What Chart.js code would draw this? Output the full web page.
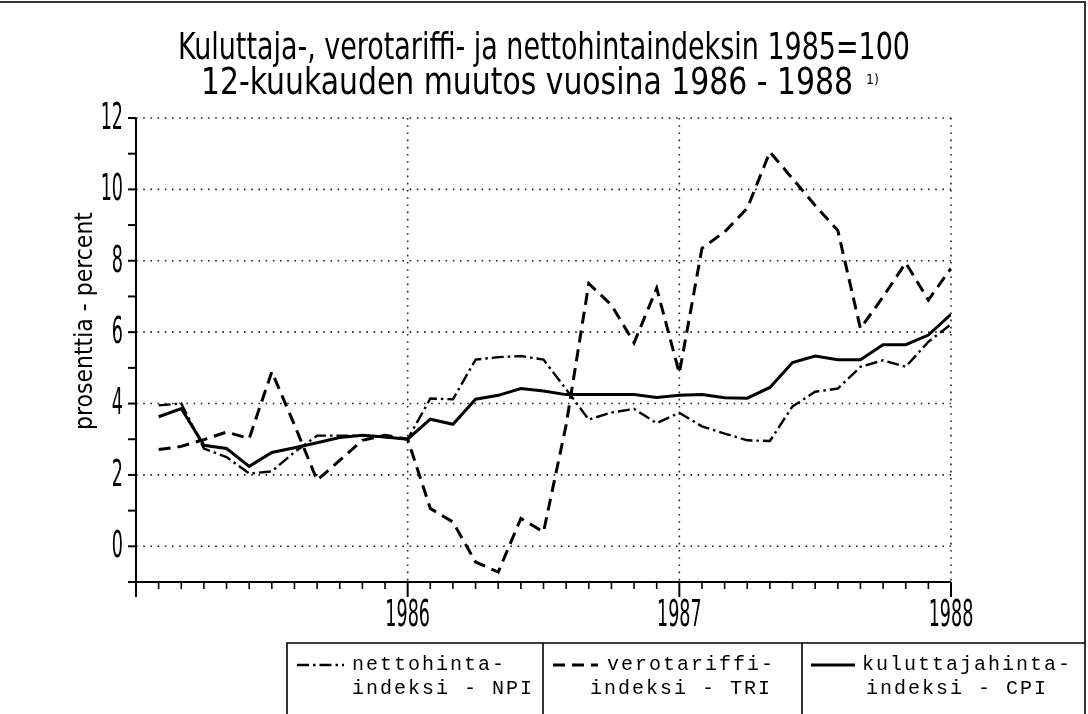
<!DOCTYPE html>
<html>
<head>
<meta charset="utf-8">
<script src="https://cdn.jsdelivr.net/npm/chart.js@4.4.1/dist/chart.umd.min.js"></script>
<style>
  html, body { margin: 0; background: #fff; }
  #wrap { width: 1088px; height: 714px; position: relative; }
</style>
</head>
<body>
<div id="wrap"><canvas id="hintaChart"></canvas></div>
<script>
// kuukaudet 1..36 (1985/2 ... 1988), vuosimerkit kohdissa 12, 24, 36
const kuukaudet = [1,2,3,4,5,6,7,8,9,10,11,12,13,14,15,16,17,18,19,20,21,22,23,24,25,26,27,28,29,30,31,32,33,34,35,36];
const vuosiKohdat = [12, 24, 36];
const vuodet = ['1986', '1987', '1988'];

// nettohintaindeksi - NPI
const npi = [3.95, 4.0, 2.74, 2.5, 2.04, 2.1, 2.64, 3.1, 3.1, 3.1, 3.06, 3.0,
             4.14, 4.12, 5.23, 5.3, 5.33, 5.23, 4.4, 3.55, 3.75, 3.85, 3.45, 3.74,
             3.36, 3.16, 2.97, 2.95, 3.92, 4.33, 4.42, 5.03, 5.21, 5.03, 5.73, 6.22];
// verotariffi-indeksi - TRI
const tri = [2.71, 2.8, 2.99, 3.2, 3.02, 4.89, 3.4, 1.85, 2.41, 2.97, 3.11, 3.0,
             1.06, 0.68, -0.44, -0.72, 0.78, 0.4, 3.4, 7.36, 6.76, 5.7, 7.23, 4.85,
             8.35, 8.81, 9.47, 11.05, 10.3, 9.55, 8.85, 6.1, 6.99, 7.94, 6.9, 7.79];
// kuluttajahintaindeksi - CPI
const cpi = [3.63, 3.86, 2.83, 2.74, 2.24, 2.63, 2.76, 2.9, 3.05, 3.11, 3.06, 3.0,
             3.56, 3.42, 4.12, 4.23, 4.42, 4.35, 4.25, 4.25, 4.25, 4.25, 4.17, 4.23,
             4.25, 4.16, 4.15, 4.45, 5.15, 5.33, 5.23, 5.23, 5.65, 5.65, 5.92, 6.5];

const selitteet = [['nettohinta-', 'indeksi - NPI'], ['verotariffi-', 'indeksi - TRI'], ['kuluttajahinta-', 'indeksi - CPI']];
const otsikko = ['Kuluttaja-, verotariffi- ja nettohintaindeksin 1985=100', '12-kuukauden muutos vuosina 1986 - 1988'];

const narrow = '"Liberation Sans Narrow", "DejaVu Sans Condensed", "DejaVu Sans", sans-serif';
const mono = '"Liberation Mono", "DejaVu Sans Mono", monospace';

const serie = arr => arr.map((v, i) => ({ x: kuukaudet[i], y: v }));

// stretched narrow text, fitted to a given width
function venytetty(ctx, text, x, y, size, width, stretchY, rot) {
  ctx.save();
  ctx.font = size + 'px ' + narrow;
  const sx = width / ctx.measureText(text).width;
  ctx.translate(x, y);
  if (rot) ctx.rotate(rot);
  ctx.scale(sx, stretchY);
  ctx.textAlign = 'center';
  ctx.textBaseline = 'alphabetic';
  ctx.fillText(text, 0, 0);
  ctx.restore();
}

// tall, narrow tick label
function kapea(ctx, text, x, y, align, baseline) {
  ctx.save();
  ctx.font = '26px ' + narrow;
  ctx.translate(x, y);
  ctx.scale(0.75, 1.45);
  ctx.textAlign = align;
  ctx.textBaseline = baseline;
  ctx.fillText(text, 0, 0);
  ctx.restore();
}

const rakenne = {
  id: 'rakenne',
  beforeDatasetsDraw(chart) {
    const ctx = chart.ctx, ca = chart.chartArea;
    const xs = chart.scales.x, ys = chart.scales.y;
    ctx.save();
    ctx.strokeStyle = '#222';
    ctx.lineWidth = 1.6;
    ctx.setLineDash([1.6, 5.6]);
    ys.ticks.forEach(t => {
      if (t.value % 2 !== 0) return;
      const y = ys.getPixelForValue(t.value);
      ctx.beginPath(); ctx.moveTo(ca.left, y); ctx.lineTo(ca.right, y); ctx.stroke();
    });
    vuosiKohdat.forEach(v => {
      const x = xs.getPixelForValue(v);
      ctx.beginPath(); ctx.moveTo(x, ca.top); ctx.lineTo(x, ca.bottom); ctx.stroke();
    });
    ctx.restore();
  },
  afterDraw(chart) {
    const ctx = chart.ctx, ca = chart.chartArea;
    const xs = chart.scales.x, ys = chart.scales.y;
    ctx.save();
    ctx.strokeStyle = '#000';
    ctx.fillStyle = '#000';
    ctx.lineWidth = 2;
    // axes
    ctx.beginPath();
    ctx.moveTo(ca.left, ca.top); ctx.lineTo(ca.left, ca.bottom + 14);
    ctx.moveTo(ca.left - 7, ca.bottom); ctx.lineTo(ca.right, ca.bottom);
    ctx.stroke();
    // y ticks + labels
    ys.ticks.forEach(t => {
      const y = ys.getPixelForValue(t.value);
      ctx.beginPath(); ctx.moveTo(ca.left - 8, y); ctx.lineTo(ca.left, y); ctx.stroke();
      if (t.label !== '') kapea(ctx, String(t.label), ca.left - 13, y + 1, 'right', 'middle');
    });
    // x ticks, long ones at years
    xs.ticks.forEach(t => {
      const x = xs.getPixelForValue(t.value);
      const pitka = t.value % 12 === 0;
      ctx.lineWidth = pitka ? 2 : 1.6;
      ctx.beginPath(); ctx.moveTo(x, ca.bottom); ctx.lineTo(x, ca.bottom + (pitka ? 15 : 7)); ctx.stroke();
      if (t.label !== '') kapea(ctx, String(t.label), x, 626, 'center', 'alphabetic');
    });

    // title
    venytetty(ctx, otsikko[0], 544, 59, 30, 732, 1.25);
    venytetty(ctx, otsikko[1], 527, 94, 30, 652, 1.25);
    ctx.font = '14px ' + narrow;
    ctx.textAlign = 'left';
    ctx.fillText('1)', 866, 84);

    // y title
    venytetty(ctx, 'prosenttia - percent', 92, 321, 20, 218, 1.25, -Math.PI / 2);

    // frame
    ctx.lineWidth = 2;
    ctx.strokeStyle = '#333';
    ctx.beginPath();
    ctx.moveTo(0, 2); ctx.lineTo(1085, 2); ctx.lineTo(1085, 714);
    ctx.stroke();

    // legend box
    ctx.strokeStyle = '#000';
    ctx.lineWidth = 1.6;
    ctx.beginPath();
    ctx.moveTo(287, 714); ctx.lineTo(287, 643); ctx.lineTo(1085, 643);
    ctx.moveTo(543, 643); ctx.lineTo(543, 714);
    ctx.moveTo(802, 643); ctx.lineTo(802, 714);
    ctx.stroke();

    const naytteet = [[297, 344, 352, 352], [553, 598, 607, 590], [811, 855, 862, 866]];
    ctx.font = '20px ' + mono;
    ctx.letterSpacing = '2px';
    ctx.textBaseline = 'middle';
    ctx.textAlign = 'left';
    chart.data.datasets.forEach((ds, i) => {
      const n = naytteet[i];
      ctx.save();
      ctx.lineWidth = ds.borderWidth;
      ctx.setLineDash(ds.borderDash || []);
      ctx.beginPath(); ctx.moveTo(n[0], 665); ctx.lineTo(n[1], 665); ctx.stroke();
      ctx.restore();
      ctx.fillText(selitteet[i][0], n[2], 665);
      ctx.fillText(selitteet[i][1], n[3], 689);
    });
    ctx.restore();
  }
};

const ctx = document.getElementById('hintaChart').getContext('2d');
const hintaChart = new Chart(ctx, {
  type: 'line',
  data: {
    datasets: [
      { label: 'nettohintaindeksi - NPI', data: serie(npi), borderColor: '#000', borderWidth: 2.4, borderDash: [12, 4, 2.5, 4] },
      { label: 'verotariffi-indeksi - TRI', data: serie(tri), borderColor: '#000', borderWidth: 3, borderDash: [12, 7] },
      { label: 'kuluttajahintaindeksi - CPI', data: serie(cpi), borderColor: '#000', borderWidth: 3 }
    ]
  },
  options: {
    responsive: true,
    maintainAspectRatio: false,
    animation: false,
    layout: { padding: { top: 118, right: 137, left: 0, bottom: 0 } },
    elements: { point: { radius: 0 }, line: { tension: 0, fill: false } },
    plugins: { legend: { display: false }, tooltip: { enabled: false }, title: { display: false } },
    scales: {
      x: {
        type: 'linear', min: 0, max: 36,
        grid: { display: false },
        border: { display: false },
        ticks: {
          stepSize: 1, autoSkip: false, maxRotation: 0,
          color: 'transparent', font: { family: narrow, size: 24 },
          callback: v => { const k = vuosiKohdat.indexOf(v); return k >= 0 ? vuodet[k] : ''; }
        },
        afterFit: s => { s.height = 132; }
      },
      y: {
        min: -1, max: 12,
        grid: { display: false },
        border: { display: false },
        ticks: {
          stepSize: 1, autoSkip: false,
          color: 'transparent', font: { family: narrow, size: 24 },
          callback: v => (v % 2 === 0 ? String(v) : '')
        },
        afterFit: s => { s.width = 136; }
      }
    }
  },
  plugins: [rakenne]
});
</script>
</body>
</html>
